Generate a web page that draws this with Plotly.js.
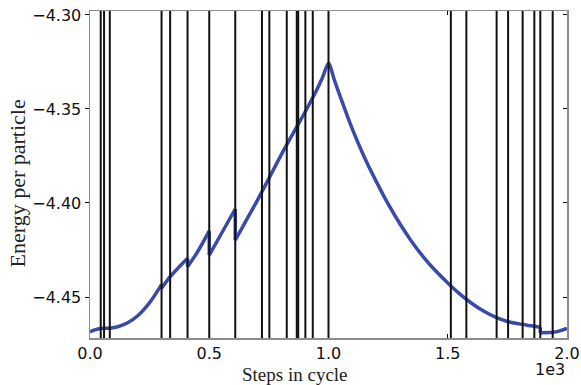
<!DOCTYPE html>
<html>
<head>
<meta charset="utf-8">
<script src="https://cdn.plot.ly/plotly-3.0.1.min.js"></script>
<style>html,body{margin:0;padding:0;background:#fff;}#chart{width:581px;height:385px;}</style>
</head>
<body>
<div id="chart"></div>
<script>
// Data (a repeated step marks a sudden drop)
const steps = [0, 20, 45, 60, 83, 120, 160, 200, 250, 300, 300, 336, 370, 409, 409, 450, 500, 500, 550, 609, 609,
  650, 700, 750, 800, 850, 900, 950, 975, 1000, 1025, 1050, 1100, 1150, 1200, 1250, 1300, 1350, 1400, 1450, 1500,
  1550, 1600, 1650, 1700, 1750, 1800, 1850, 1888, 1888, 1940, 1970, 2000];
const energy = [-4.4685, -4.4675, -4.4667, -4.4666, -4.4666, -4.4657, -4.4636, -4.4600, -4.4530, -4.4434, -4.4454,
  -4.4392, -4.4345, -4.4294, -4.4339, -4.4262, -4.4148, -4.4277, -4.4165, -4.4032, -4.4197,
  -4.4104, -4.3990, -4.3870, -4.3748, -4.3633, -4.3520, -4.3400, -4.3333, -4.3257, -4.3348, -4.3437, -4.3607, -4.3755,
  -4.3885, -4.4005, -4.4112, -4.4207, -4.4290, -4.4362, -4.4425,
  -4.4483, -4.4533, -4.4575, -4.4607, -4.4630, -4.4643, -4.4653, -4.4661, -4.4690, -4.4688, -4.4680, -4.4667];
const eventSteps = [45, 59, 83, 300, 336, 409, 500, 609, 721, 752, 825, 867, 873, 903, 934, 1000,
  1513, 1578, 1705, 1753, 1814, 1863, 1888, 1940];
const xTickVals = [0, 500, 1000, 1500, 2000];
const xTickText = ['0.0', '0.5', '1.0', '1.5', '2.0'];
const yTickVals = [-4.45, -4.40, -4.35, -4.30];
const yTickText = ['\u22124.45', '\u22124.40', '\u22124.35', '\u22124.30'];
const xRange = [0, 2000];
const yRange = [-4.4718, -4.2979];

const curveColor = '#3a4aa8';
const curveWidth = 3.5;

// Split the series into smooth segments and straight drops
const traces = [];
let segX = [steps[0]], segY = [energy[0]];
for (let i = 1; i < steps.length; i++) {
  if (steps[i] === steps[i - 1]) {
    traces.push({x: segX, y: segY, mode: 'lines', type: 'scatter',
      line: {color: curveColor, width: curveWidth, shape: 'spline', smoothing: 0.8}, hoverinfo: 'skip', showlegend: false});
    traces.push({x: [steps[i - 1], steps[i]], y: [energy[i - 1], energy[i]], mode: 'lines', type: 'scatter',
      line: {color: curveColor, width: curveWidth}, hoverinfo: 'skip', showlegend: false});
    segX = [steps[i]]; segY = [energy[i]];
  } else {
    segX.push(steps[i]); segY.push(energy[i]);
  }
}
traces.push({x: segX, y: segY, mode: 'lines', type: 'scatter',
  line: {color: curveColor, width: curveWidth, shape: 'spline', smoothing: 0.8}, hoverinfo: 'skip', showlegend: false});
traces.push({x: [], y: [], yaxis: 'y2', mode: 'lines', type: 'scatter', showlegend: false, hoverinfo: 'skip'});

const shapes = eventSteps.map(s => ({
  type: 'line', xref: 'x', yref: 'paper', x0: s, x1: s, y0: 0, y1: 1,
  line: {color: '#111111', width: 2}, layer: 'above'
}));

const tickFont = {family: 'DejaVu Sans', size: 16, color: '#111'};
const layout = {
  width: 581, height: 385,
  margin: {l: 90, r: 14, t: 11, b: 47},
  paper_bgcolor: '#fff', plot_bgcolor: '#fff',
  showlegend: false,
  xaxis: {range: xRange, tickvals: xTickVals, ticktext: xTickText, ticks: 'inside', ticklen: 4,
    tickcolor: '#000', tickwidth: 1, mirror: 'ticks', showline: true, linecolor: '#8c8c8c', linewidth: 1.5,
    showgrid: false, zeroline: false, tickfont: tickFont},
  yaxis: {range: yRange, tickvals: yTickVals, ticktext: yTickText, ticks: 'outside', ticklen: 4,
    tickcolor: '#000', tickwidth: 1, mirror: true, showline: true, linecolor: '#8c8c8c', linewidth: 1.5,
    showgrid: false, zeroline: false, tickfont: tickFont},
  yaxis2: {range: yRange, overlaying: 'y', side: 'right', anchor: 'x', tickvals: yTickVals, ticks: 'inside',
    ticklen: 4, tickcolor: '#000', showticklabels: false, showgrid: false, zeroline: false, showline: false},
  shapes: shapes,
  annotations: [
    {text: 'Steps in cycle', xref: 'paper', yref: 'paper', x: 0.43, y: -0.072, yanchor: 'top',
     xanchor: 'center', showarrow: false, font: {family: 'Liberation Serif', size: 19, color: '#222'}},
    {text: 'Energy per particle', xref: 'paper', yref: 'paper', x: -0.152, y: 0.474, textangle: -90,
     xanchor: 'center', yanchor: 'middle', showarrow: false, font: {family: 'Liberation Serif', size: 22, color: '#222'}},
    {text: '1e3', xref: 'paper', yref: 'paper', x: 1.0, y: -0.062, xanchor: 'right', yanchor: 'top',
     showarrow: false, font: tickFont}
  ]
};

Plotly.newPlot('chart', traces, layout, {staticPlot: true, displayModeBar: false});
</script>
</body>
</html>
